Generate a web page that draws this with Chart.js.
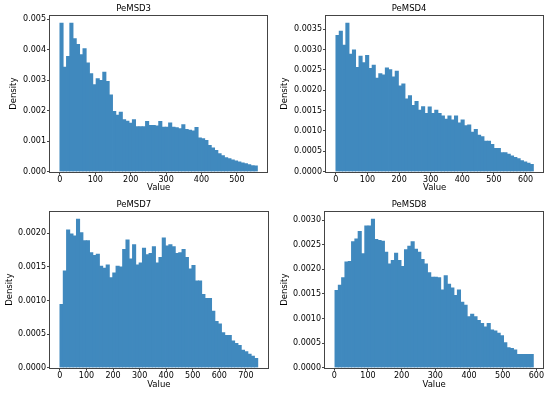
<!DOCTYPE html>
<html><head><meta charset="utf-8">
<script src="https://cdn.jsdelivr.net/npm/chart.js@4/dist/chart.umd.min.js"></script>
<style>
html,body{margin:0;padding:0;background:#fff;width:550px;height:393px;overflow:hidden}
.p{position:absolute}
</style></head><body>
<div class="p" style="left:0;top:0"><canvas id="c1" width="275" height="196"></canvas></div>
<div class="p" style="left:275px;top:0"><canvas id="c2" width="275" height="196"></canvas></div>
<div class="p" style="left:0;top:196px"><canvas id="c3" width="275" height="197"></canvas></div>
<div class="p" style="left:275px;top:196px"><canvas id="c4" width="275" height="197"></canvas></div>
<script>
// ---- data ----
const titles = ["PeMSD3", "PeMSD4", "PeMSD7", "PeMSD8"];

const pemsd3Range = [0, 558];
const pemsd3Density = [
  0.00487,0.00343,0.00378,0.00487,0.00436,0.00417,0.00384,0.00403,0.00357,0.00321,
  0.00285,0.00305,0.00299,0.00326,0.00296,0.00252,0.00198,0.00185,0.00195,0.00171,
  0.00166,0.00159,0.00171,0.00148,0.00148,0.00148,0.00165,0.00152,0.00152,0.00150,
  0.00165,0.00146,0.00146,0.00160,0.00146,0.00144,0.00141,0.00154,0.00139,0.00136,
  0.00134,0.00145,0.00111,0.00108,0.00103,0.00086,0.00078,0.00070,0.00059,0.00053,
  0.00046,0.00043,0.00039,0.00035,0.00032,0.00029,0.00026,0.00023,0.00020,0.00019
];
const pemsd4Range = [0, 625];
const pemsd4Density = [
  0.00335,0.00345,0.00311,0.00365,0.00289,0.00299,0.00256,0.00284,0.00268,0.00286,
  0.00254,0.00262,0.00230,0.00241,0.00238,0.00255,0.00251,0.00233,0.00247,0.00211,
  0.00216,0.00179,0.00187,0.00163,0.00173,0.00151,0.00160,0.00143,0.00159,0.00143,
  0.00151,0.00143,0.00137,0.00129,0.00137,0.00127,0.00137,0.00120,0.00127,0.00113,
  0.00115,0.00097,0.00104,0.00090,0.00086,0.00075,0.00075,0.00067,0.00057,0.00057,
  0.00047,0.00047,0.00043,0.00039,0.00035,0.00032,0.00027,0.00024,0.00021,0.00018
];
const pemsd7Range = [0, 745];
const pemsd7Density = [
  0.00094,0.00144,0.00205,0.00199,0.00196,0.00221,0.00201,0.00189,0.00189,0.00171,
  0.00167,0.00169,0.00151,0.00148,0.00153,0.00134,0.00141,0.00151,0.00150,0.00176,
  0.00190,0.00162,0.00183,0.00153,0.00156,0.00178,0.00168,0.00170,0.00180,0.00156,
  0.00164,0.00193,0.00181,0.00183,0.00180,0.00170,0.00171,0.00176,0.00164,0.00147,
  0.00152,0.00129,0.00129,0.00109,0.00103,0.00103,0.00084,0.00069,0.00065,0.00052,
  0.00048,0.00048,0.00040,0.00036,0.00033,0.00026,0.00024,0.00020,0.00017,0.00014
];
const pemsd8Range = [2, 591];
const pemsd8Density = [
  0.00157,0.00168,0.00183,0.00215,0.00216,0.00256,0.00262,0.00277,0.00232,0.00288,
  0.00288,0.00302,0.00261,0.00259,0.00257,0.00235,0.00211,0.00218,0.00233,0.00218,
  0.00206,0.00240,0.00247,0.00256,0.00241,0.00235,0.00220,0.00211,0.00193,0.00184,
  0.00184,0.00183,0.00158,0.00187,0.00170,0.00162,0.00147,0.00158,0.00133,0.00127,
  0.00104,0.00109,0.00104,0.00096,0.00090,0.00083,0.00090,0.00077,0.00075,0.00070,
  0.00065,0.00051,0.00041,0.00039,0.00036,0.00027,0.00027,0.00027,0.00027,0.00027
];

const xTicks3 = [0,100,200,300,400,500];
const xTicks4 = [0,100,200,300,400,500,600];
const xTicks7 = [0,100,200,300,400,500,600,700];
const xTicks8 = [0,100,200,300,400,500,600];
const yTicks3 = [0,0.001,0.002,0.003,0.004,0.005];
const yTicks4 = [0,0.0005,0.001,0.0015,0.002,0.0025,0.003,0.0035];
const yTicks7 = [0,0.0005,0.001,0.0015,0.002];
const yTicks8 = [0,0.0005,0.001,0.0015,0.002,0.0025,0.003];
const yDecimals = [3,4,4,4];

// ---- layout/style ----
const panels = [
  {id:"c1", range:pemsd3Range, vals:pemsd3Density, xt:xTicks3, yt:yTicks3, yw:50, rp:7.7, xh:24.3, ytp:8.7},
  {id:"c2", range:pemsd4Range, vals:pemsd4Density, xt:xTicks4, yt:yTicks4, yw:51, rp:6.7, xh:24.3, ytp:5},
  {id:"c3", range:pemsd7Range, vals:pemsd7Density, xt:xTicks7, yt:yTicks7, yw:50, rp:7.3, xh:25.3, ytp:5},
  {id:"c4", range:pemsd8Range, vals:pemsd8Density, xt:xTicks8, yt:yTicks8, yw:50, rp:6.7, xh:25.3, ytp:5}
];
const FONT = "'DejaVu Sans', sans-serif";
const BAR = "rgb(64,137,190)";
const AX = "#444";
const TXT = "#000";

const frame = {
  id: "frame",
  afterDraw(chart) {
    const a = chart.chartArea, ctx = chart.ctx;
    ctx.save();
    ctx.strokeStyle = AX; ctx.lineWidth = 1;
    ctx.strokeRect(Math.round(a.left)-0.5, Math.round(a.top)-0.5, Math.round(a.right-a.left)+1, Math.round(a.bottom-a.top)+1);
    ctx.restore();
  }
};

panels.forEach((p, k) => {
  const lo = p.range[0], hi = p.range[1], n = p.vals.length, w = (hi - lo) / n;
  const data = p.vals.map((v, i) => ({x: lo + (i + 0.5) * w, y: v}));
  const span = hi - lo;
  const ymax = Math.max(...p.vals) * 1.05;
  new Chart(document.getElementById(p.id), {
    type: "bar",
    data: { datasets: [{ data, backgroundColor: BAR, borderWidth: 0,
      barPercentage: 1, categoryPercentage: 1, inflateAmount: 0.4 }] },
    options: {
      responsive: false, animation: false, devicePixelRatio: 1,
      events: [],
      layout: { padding: { left: 0, right: p.rp, top: 0, bottom: 0 } },
      plugins: {
        legend: { display: false }, tooltip: { enabled: false },
        title: { display: true, text: titles[k], color: TXT,
          font: { family: FONT, size: 8.5, weight: "normal" },
          padding: { top: 4, bottom: 1.5 } }
      },
      scales: {
        x: {
          type: "linear", min: lo - 0.05 * span, max: hi + 0.05 * span,
          offset: false,
          grid: { display: true, drawOnChartArea: false, drawTicks: true, tickLength: 3, color: AX, offset: false },
          border: { display: false },
          afterBuildTicks: s => { s.ticks = p.xt.map(v => ({value: v})); },
          afterFit: s => { s.height = p.xh; },
          ticks: { color: TXT, font: { family: FONT, size: 8 }, padding: 0, maxRotation: 0, autoSkip: false },
          title: { display: true, text: "Value", color: TXT, font: { family: FONT, size: 8.5 }, padding: { top: 0, bottom: 2.7 } }
        },
        y: {
          min: 0, max: ymax,
          grid: { display: true, drawOnChartArea: false, drawTicks: true, tickLength: 3, color: AX },
          border: { display: false },
          afterBuildTicks: s => { s.ticks = p.yt.map(v => ({value: v})); },
          afterFit: s => { s.width = p.yw; },
          ticks: { color: TXT, font: { family: FONT, size: 8 }, padding: 1, autoSkip: false,
            callback: v => Number(v).toFixed(yDecimals[k]) },
          title: { display: true, text: "Density", color: TXT, font: { family: FONT, size: 8.5 }, padding: { top: p.ytp, bottom: 0 } }
        }
      }
    },
    plugins: [frame]
  });
});
</script>
</body></html>
